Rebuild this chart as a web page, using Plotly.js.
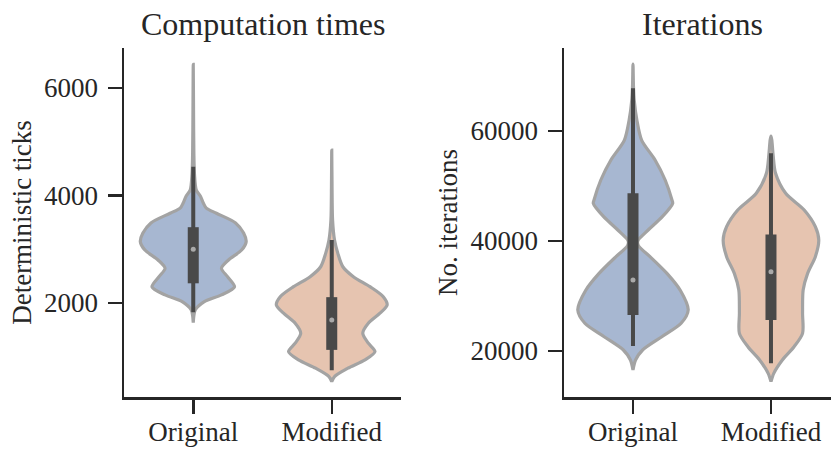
<!DOCTYPE html>
<html>
<head>
<meta charset="utf-8">
<script src="https://cdn.plot.ly/plotly-3.0.1.min.js"></script>
<style>
  html, body { margin: 0; padding: 0; background: #ffffff; overflow: hidden; }
  #chart { width: 831px; height: 452px; }
</style>
</head>
<body>
<div id="chart"></div>
<script>
// Groups shown on both panels
const categories = ['Original', 'Modified'];

// Computation times: estimated density profile (relative) at each level
const timeOrigLevels  = [6440, 5600, 4800, 4400, 4100, 3990, 3860, 3765, 3670, 3490, 3300, 3140, 2985, 2800, 2645, 2490, 2300, 2150, 2025, 1870, 1760, 1634];
const timeOrigDensity = [0, 0.005, 0.011, 0.022, 0.055, 0.127, 0.182, 0.236, 0.418, 0.764, 0.909, 0.955, 0.873, 0.636, 0.509, 0.618, 0.745, 0.509, 0.2, 0.036, 0.011, 0];
const timeModLevels   = [4843, 4200, 3542, 3171, 2923, 2674, 2489, 2303, 2117, 1963, 1809, 1623, 1437, 1251, 1095, 941, 786, 631, 538];
const timeModDensity  = [0, 0.005, 0.015, 0.05, 0.11, 0.2, 0.39, 0.69, 0.93, 1.0, 0.87, 0.66, 0.56, 0.66, 0.78, 0.6, 0.29, 0.05, 0];

// Computation times: box statistics per group
const timeLow    = [1827, 750];
const timeQ1     = [2366, 1127];
const timeMedian = [2998, 1684];
const timeQ3     = [3410, 2108];
const timeHigh   = [4533, 3171];

// Iterations: estimated density profile (relative) at each level
const iterOrigLevels  = [72180, 68000, 65630, 62000, 58360, 54730, 51090, 47450, 46850, 44420, 42000, 40180, 39640, 38970, 37150, 34110, 31000, 27460, 25040, 22600, 20180, 18360, 16550];
const iterOrigDensity = [0, 0.009, 0.022, 0.07, 0.156, 0.4, 0.583, 0.706, 0.719, 0.532, 0.275, 0.095, 0.083, 0.11, 0.308, 0.615, 0.859, 1.0, 0.872, 0.523, 0.174, 0.046, 0];
const iterModLevels   = [59090, 58360, 55500, 52310, 48670, 45640, 42600, 40180, 37150, 34110, 31090, 26860, 23210, 20780, 18360, 15940, 14420];
const iterModDensity  = [0, 0.015, 0.04, 0.083, 0.266, 0.602, 0.804, 0.866, 0.804, 0.664, 0.583, 0.572, 0.572, 0.418, 0.206, 0.051, 0];

// Iterations: box statistics per group
const iterLow    = [20911, 17765];
const iterQ1     = [26547, 25638];
const iterMedian = [32910, 34390];
const iterQ3     = [48672, 41200];
const iterHigh   = [67761, 55944];

// Axis ticks
const timeTicks = [2000, 4000, 6000];
const iterTicks = [20000, 40000, 60000];

const FONT = 'Liberation Serif, Times New Roman, serif';
const INK = '#262626';
const FILLS = ['#a7b7d1', '#e6c4b0'];
const OUTLINE = '#a3a3a3';
const BOXCOL = '#494949';
const HALF_WIDTH = 0.4;

// Closed outline of a symmetric violin around category position xc
function violinTrace(xc, levels, density, fill, xa, ya) {
  const xs = [], ys = [];
  for (let i = 0; i < levels.length; i++) {
    xs.push(xc + HALF_WIDTH * density[i]);
    ys.push(levels[i]);
  }
  for (let i = levels.length - 1; i >= 0; i--) {
    xs.push(xc - HALF_WIDTH * density[i]);
    ys.push(levels[i]);
  }
  return {
    type: 'scatter', mode: 'lines', x: xs, y: ys,
    xaxis: xa, yaxis: ya,
    fill: 'toself', fillcolor: fill,
    line: { color: OUTLINE, width: 3.2, shape: 'spline', smoothing: 0.8 },
    hoverinfo: 'skip', showlegend: false
  };
}

// Inner box: whisker line, thick interquartile bar, median dot
function boxTraces(low, q1, med, q3, high, xa, ya) {
  const out = [];
  for (let i = 0; i < categories.length; i++) {
    out.push({
      type: 'scatter', mode: 'lines', x: [i, i], y: [low[i], high[i]],
      xaxis: xa, yaxis: ya, line: { color: BOXCOL, width: 4 },
      hoverinfo: 'skip', showlegend: false
    });
    out.push({
      type: 'scatter', mode: 'lines', x: [i, i], y: [q1[i], q3[i]],
      xaxis: xa, yaxis: ya, line: { color: BOXCOL, width: 11 },
      hoverinfo: 'skip', showlegend: false
    });
  }
  out.push({
    type: 'scatter', mode: 'markers', x: categories.map((c, i) => i), y: med,
    xaxis: xa, yaxis: ya,
    marker: { color: '#a9a9a9', size: 5 },
    hoverinfo: 'skip', showlegend: false
  });
  return out;
}

const traces = [
  violinTrace(0, timeOrigLevels, timeOrigDensity, FILLS[0], 'x', 'y'),
  violinTrace(1, timeModLevels, timeModDensity, FILLS[1], 'x', 'y'),
  ...boxTraces(timeLow, timeQ1, timeMedian, timeQ3, timeHigh, 'x', 'y'),
  violinTrace(0, iterOrigLevels, iterOrigDensity, FILLS[0], 'x2', 'y2'),
  violinTrace(1, iterModLevels, iterModDensity, FILLS[1], 'x2', 'y2'),
  ...boxTraces(iterLow, iterQ1, iterMedian, iterQ3, iterHigh, 'x2', 'y2')
];

const W = 831, H = 452, T = 48, B = 55;
const plotH = H - T - B;

function xAxis(dom, range, anchor) {
  return {
    domain: dom, range: range, anchor: anchor,
    tickmode: 'array', tickvals: categories.map((c, i) => i), ticktext: categories,
    ticks: 'outside', ticklen: 14, tickwidth: 2.5, tickcolor: INK,
    showline: true, linewidth: 2.5, linecolor: INK,
    showgrid: false, zeroline: false, fixedrange: true,
    ticklabelstandoff: -5,
    tickfont: { family: FONT, size: 27, color: INK }
  };
}
function yAxis(range, ticks, title, anchor) {
  return {
    domain: [0, 1], range: range, anchor: anchor,
    tickmode: 'array', tickvals: ticks, ticktext: ticks.map(String),
    ticks: 'outside', ticklen: 14, tickwidth: 2.5, tickcolor: INK,
    showline: true, linewidth: 2.5, linecolor: INK,
    showgrid: false, zeroline: false, fixedrange: true,
    ticklabelstandoff: 4,
    tickfont: { family: FONT, size: 27, color: INK },
    title: { text: title, standoff: 5, font: { family: FONT, size: 27, color: INK } }
  };
}

const layout = {
  width: W, height: H,
  margin: { l: 0, r: 0, t: T, b: B, pad: 0 },
  paper_bgcolor: '#ffffff', plot_bgcolor: '#ffffff',
  showlegend: false,
  xaxis: xAxis([124 / W, 401 / W], [-0.5, 1.5], 'y'),
  yaxis: yAxis([250, 6745], timeTicks, 'Deterministic ticks', 'x'),
  xaxis2: xAxis([564 / W, 1], [-0.5, 1.435], 'y2'),
  yaxis2: yAxis([11636, 75091], iterTicks, 'No. iterations', 'x2'),
  annotations: [
    { text: 'Computation times', xref: 'paper', yref: 'paper',
      x: 262.5 / W, y: (H - B - 24) / plotH, xanchor: 'center', yanchor: 'middle',
      showarrow: false, font: { family: FONT, size: 32, color: INK } },
    { text: 'Iterations', xref: 'paper', yref: 'paper',
      x: 702 / W, y: (H - B - 24) / plotH, xanchor: 'center', yanchor: 'middle',
      showarrow: false, font: { family: FONT, size: 32, color: INK } }
  ]
};

Plotly.newPlot('chart', traces, layout, { staticPlot: true, displayModeBar: false });
</script>
</body>
</html>
